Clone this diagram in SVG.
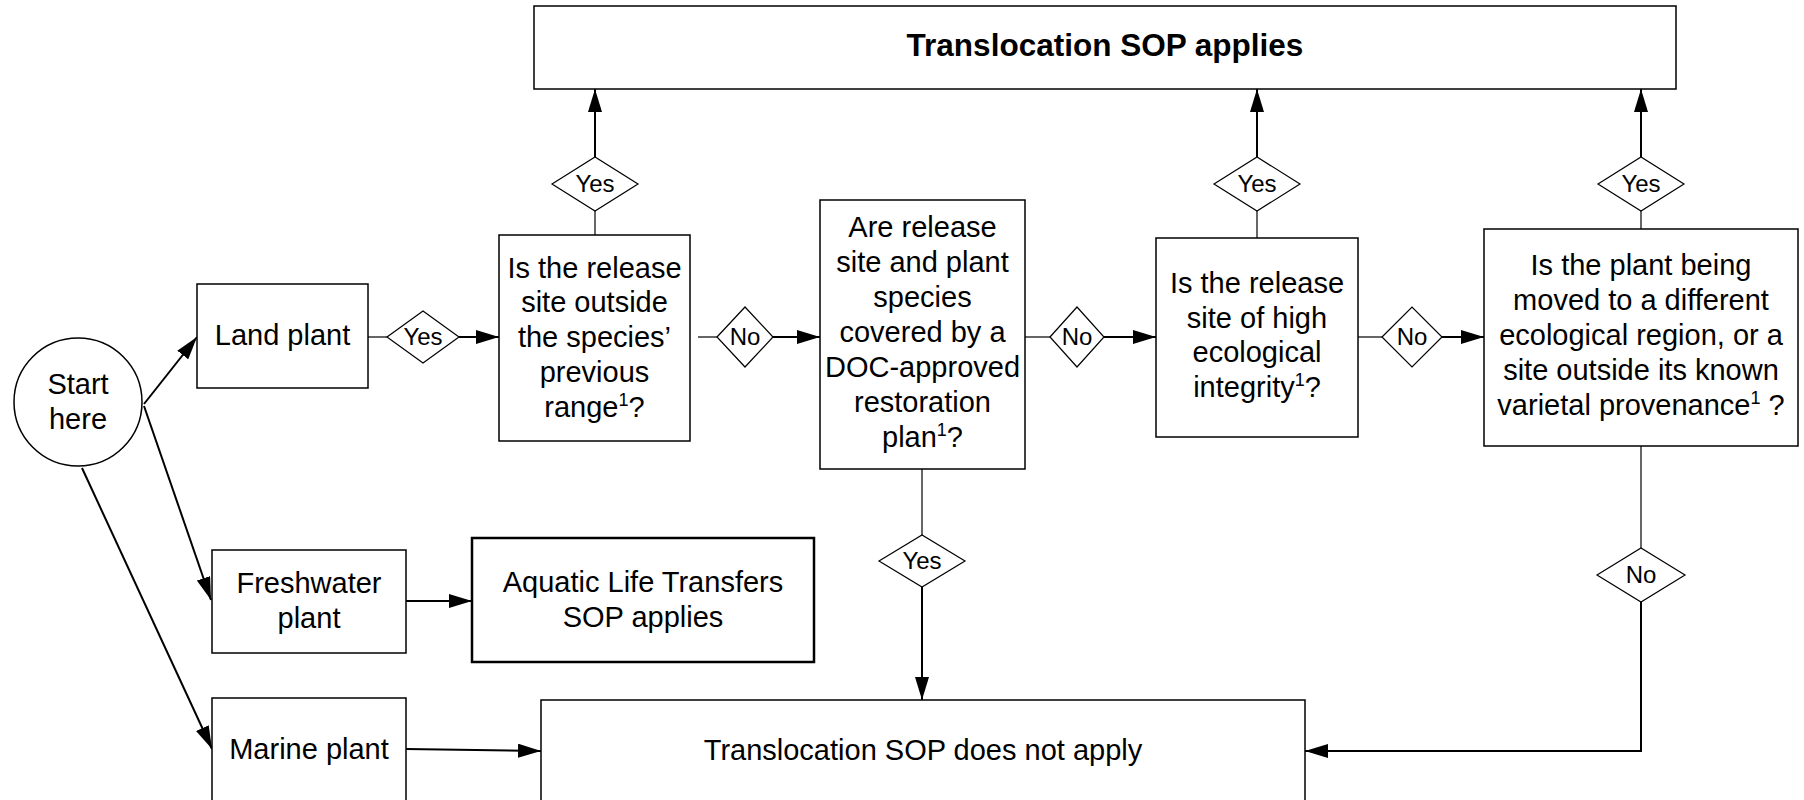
<svg xmlns="http://www.w3.org/2000/svg" width="1804" height="800" viewBox="0 0 1804 800">
<defs>
<marker id="ah" markerUnits="userSpaceOnUse" markerWidth="23" markerHeight="14" refX="23" refY="7" orient="auto">
<path d="M0,0 L23,7 L0,14 z" fill="#000"/>
</marker>
<style>
.box{fill:#fff;stroke:#000;stroke-width:1.5}
.thick{stroke-width:2.5}
.dia{fill:#fff;stroke:#000;stroke-width:1.2}
.t{font-family:"Liberation Sans",Arial,sans-serif;font-size:29px;fill:#000;text-anchor:middle}
.b{font-weight:bold;font-size:31.5px}
.lbl{font-family:"Liberation Sans",Arial,sans-serif;font-size:24px;fill:#000;text-anchor:middle}
.sup{font-size:18px}
.c{fill:none;stroke:#000;stroke-width:1.2}
.a{fill:none;stroke:#000;stroke-width:2;marker-end:url(#ah)}
</style>
</defs>
<rect width="1804" height="800" fill="#fff"/>

<g id="connectors">
<line class="a" x1="144" y1="404" x2="197" y2="337"/>
<line class="a" x1="144" y1="406" x2="211" y2="600"/>
<line class="a" x1="82" y1="468" x2="212" y2="749"/>
<line class="c" x1="368" y1="337" x2="387" y2="337"/>
<line class="a" x1="459" y1="337" x2="499" y2="337"/>
<line class="a" x1="595" y1="157" x2="595" y2="89"/>
<line class="c" x1="595" y1="211" x2="595" y2="235"/>
<line class="c" x1="698" y1="337" x2="717" y2="337"/>
<line class="a" x1="773" y1="337" x2="820" y2="337"/>
<line class="c" x1="1025" y1="337" x2="1050" y2="337"/>
<line class="a" x1="1104" y1="337" x2="1156" y2="337"/>
<line class="a" x1="1257" y1="157" x2="1257" y2="89"/>
<line class="c" x1="1257" y1="211" x2="1257" y2="238"/>
<line class="c" x1="1358" y1="337" x2="1382" y2="337"/>
<line class="a" x1="1442" y1="337" x2="1484" y2="337"/>
<line class="a" x1="1641" y1="157" x2="1641" y2="89"/>
<line class="c" x1="1641" y1="211" x2="1641" y2="229"/>
<line class="c" x1="1641" y1="446" x2="1641" y2="548"/>
<polyline class="a" points="1641,602 1641,751 1305,751"/>
<line class="c" x1="922" y1="469" x2="922" y2="535"/>
<line class="a" x1="922" y1="587" x2="922" y2="700"/>
<line class="a" x1="406" y1="601" x2="472" y2="601"/>
<line class="a" x1="406" y1="749" x2="541" y2="751"/>
</g>

<g id="top">
<rect class="box" x="534" y="6" width="1142" height="83"/>
<text class="t b" x="1105" y="56">Translocation SOP applies</text>
</g>

<g id="start">
<circle class="box" cx="78" cy="402" r="64"/>
<text class="t" x="78" y="394">Start</text>
<text class="t" x="78" y="429">here</text>
</g>

<g id="land">
<rect class="box" x="197" y="284" width="171" height="104"/>
<text class="t" x="282.5" y="345">Land plant</text>
</g>

<g id="yes-land">
<polygon class="dia" points="387,337 423,311 459,337 423,363"/>
<text class="lbl" x="423" y="345">Yes</text>
</g>

<g id="q1">
<rect class="box" x="499" y="235" width="191" height="206"/>
<text class="t" x="594.5" y="278">Is the release</text>
<text class="t" x="594.5" y="312">site outside</text>
<text class="t" x="594.5" y="347">the species’</text>
<text class="t" x="594.5" y="382">previous</text>
<text class="t" x="594.5" y="417">range<tspan class="sup" dy="-11">1</tspan><tspan dy="11">?</tspan></text>
</g>

<g id="yes-q1">
<polygon class="dia" points="552,184 595,157 638,184 595,211"/>
<text class="lbl" x="595" y="192">Yes</text>
</g>

<g id="no-q1">
<polygon class="dia" points="717,337 745,307 773,337 745,367"/>
<text class="lbl" x="745" y="345">No</text>
</g>

<g id="q2">
<rect class="box" x="820" y="200" width="205" height="269"/>
<text class="t" x="922.5" y="236.7">Are release</text>
<text class="t" x="922.5" y="271.7">site and plant</text>
<text class="t" x="922.5" y="306.7">species</text>
<text class="t" x="922.5" y="341.7">covered by a</text>
<text class="t" x="922.5" y="376.7">DOC-approved</text>
<text class="t" x="922.5" y="411.7">restoration</text>
<text class="t" x="922.5" y="446.7">plan<tspan class="sup" dy="-11">1</tspan><tspan dy="11">?</tspan></text>
</g>

<g id="no-q2">
<polygon class="dia" points="1050,337 1077,307 1104,337 1077,367"/>
<text class="lbl" x="1077" y="345">No</text>
</g>

<g id="yes-q2">
<polygon class="dia" points="879,561 922,535 965,561 922,587"/>
<text class="lbl" x="922" y="569">Yes</text>
</g>

<g id="q3">
<rect class="box" x="1156" y="238" width="202" height="199"/>
<text class="t" x="1257" y="293">Is the release</text>
<text class="t" x="1257" y="328">site of high</text>
<text class="t" x="1257" y="362">ecological</text>
<text class="t" x="1257" y="397">integrity<tspan class="sup" dy="-11">1</tspan><tspan dy="11">?</tspan></text>
</g>

<g id="yes-q3">
<polygon class="dia" points="1214,184 1257,157 1300,184 1257,211"/>
<text class="lbl" x="1257" y="192">Yes</text>
</g>

<g id="no-q3">
<polygon class="dia" points="1382,337 1412,307 1442,337 1412,367"/>
<text class="lbl" x="1412" y="345">No</text>
</g>

<g id="q4">
<rect class="box" x="1484" y="229" width="314" height="217"/>
<text class="t" x="1641" y="275">Is the plant being</text>
<text class="t" x="1641" y="310">moved to a different</text>
<text class="t" x="1641" y="345">ecological region, or a</text>
<text class="t" x="1641" y="380">site outside its known</text>
<text class="t" x="1641" y="415">varietal provenance<tspan class="sup" dy="-11">1</tspan><tspan dy="11"> ?</tspan></text>
</g>

<g id="yes-q4">
<polygon class="dia" points="1598,184 1641,157 1684,184 1641,211"/>
<text class="lbl" x="1641" y="192">Yes</text>
</g>

<g id="no-q4">
<polygon class="dia" points="1597,575 1641,548 1685,575 1641,602"/>
<text class="lbl" x="1641" y="583">No</text>
</g>

<g id="freshwater">
<rect class="box" x="212" y="550" width="194" height="103"/>
<text class="t" x="309" y="593">Freshwater</text>
<text class="t" x="309" y="628">plant</text>
</g>

<g id="aquatic">
<rect class="box thick" x="472" y="538" width="342" height="124"/>
<text class="t" x="643" y="592">Aquatic Life Transfers</text>
<text class="t" x="643" y="627">SOP applies</text>
</g>

<g id="marine">
<rect class="box" x="212" y="698" width="194" height="112"/>
<text class="t" x="309" y="759">Marine plant</text>
</g>

<g id="notapply">
<rect class="box" x="541" y="700" width="764" height="110"/>
<text class="t" x="923" y="760">Translocation SOP does not apply</text>
</g>
</svg>
